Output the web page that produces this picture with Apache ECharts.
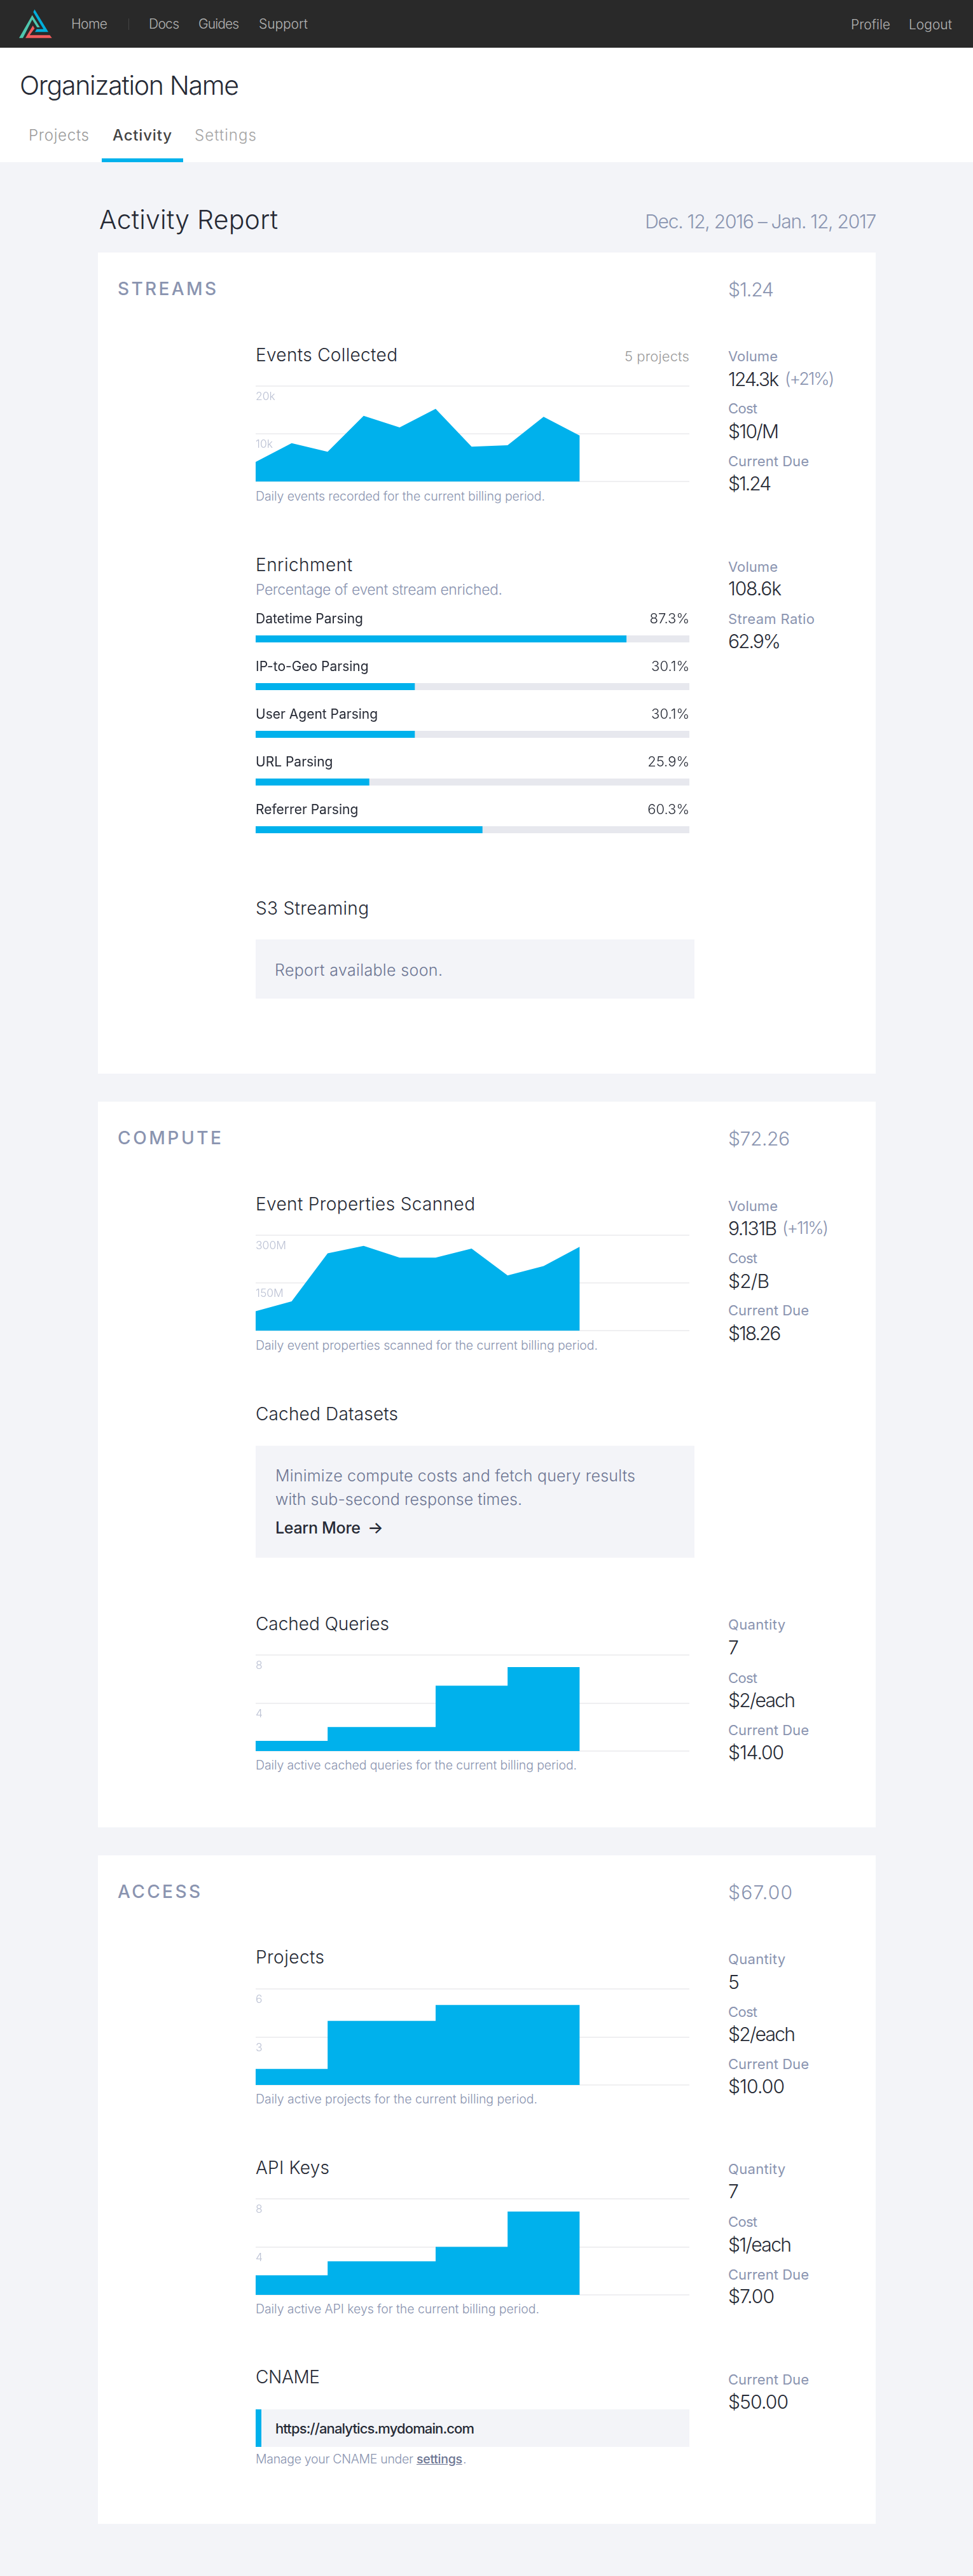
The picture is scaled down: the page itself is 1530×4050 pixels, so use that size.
<!DOCTYPE html>
<html><head><meta charset="utf-8">
<script src="https://cdn.jsdelivr.net/npm/echarts@6/dist/echarts.min.js"></script>
<style>
html,body{margin:0;padding:0;width:1530px;height:4050px;overflow:hidden;background:#f3f4f8;font-family:Inter,"Open Sans",sans-serif}
.r{position:absolute}
.t{position:absolute;line-height:0;height:0;white-space:nowrap}
.c{position:absolute}
</style></head><body>
<script>
// ---- chart data ----
const eventsCollected = [4089, 8044, 6222, 13778, 11333, 15244, 7289, 7600, 13556, 9644];
const eventsTicks = ['', '10k', '20k'];
const propertiesScanned = [61.2, 91.8, 242.9, 266.3, 229.6, 229.6, 258.2, 173.5, 203, 263.3];
const propertiesTicks = ['', '150M', '300M'];
const cachedQueries = [0.85, 0.85, 2, 2, 2, 5.45, 5.45, 7, 7, 7];
const cachedTicks = ['', '4', '8'];
const activeProjects = [1, 1, 4, 4, 4, 5, 5, 5, 5, 5];
const projectTicks = ['', '3', '6'];
const apiKeys = [1.63, 1.63, 2.8, 2.8, 2.8, 4, 4, 6.94, 6.94, 6.94];
const apiTicks = ['', '4', '8'];
const enrichNames = ['Datetime Parsing', 'IP-to-Geo Parsing', 'User Agent Parsing', 'URL Parsing', 'Referrer Parsing'];
const enrichBars = [85.5, 36.7, 36.7, 26.2, 52.3];
const enrichLabels = ['87.3%', '30.1%', '30.1%', '25.9%', '60.3%'];

// ---- page furniture ----
const BLUE = '#00b1ec', INK = '#262a35', SLATE = '#8a94b0', BOX = '#f3f4f8';
const rects = [
  [0, 0, 1530, 75, '#292929'], [0, 75, 1530, 180, '#fff'], [160, 249, 128, 6, BLUE],
  [202, 29, 1, 18, '#444'],
  [154, 397, 1223, 1291, '#fff'], [154, 1732, 1223, 1141, '#fff'], [154, 2917, 1223, 1051, '#fff'],
  [402, 1477, 690, 93, BOX], [402, 2273, 690, 176, BOX], [402, 3788, 682, 59, BOX], [402, 3788, 9, 59, BLUE]
];
// text, x, capMidY, size, targetWidth, colour, weight, align
const nav = '#b4b4b4';
const HEAD = 28, STAT = 22, VAL = 30, SUB = 27, CAP = 19.5, BODY = 25;
const texts = [
  ['Home', 112, 38, 21, 57, nav, 300], ['Docs', 234, 38, 21, 48, nav, 300], ['Guides', 312, 38, 21, 64, nav, 300], ['Support', 407, 38, 21, 77, nav, 300],
  ['Profile', 1338, 39, 21, 62, nav, 300], ['Logout', 1429, 39, 21, 68, nav, 300],
  ['Organization Name', 31, 134, 41, 345, INK, 300],
  ['Projects', 45, 213, 24, 95, '#9b9b9b', 300], ['Activity', 177, 213, 24, 93, '#444', 500], ['Settings', 306, 213, 24, 97, '#a5a5a5', 300],
  ['Activity Report', 156, 345, 41, 281, INK, 300],
  ['Dec. 12, 2016 – Jan. 12, 2017', 1377, 348, 30, 364, SLATE, 300, 'r'],

  ['STREAMS', 185, 454, HEAD, 155, SLATE, 500], ['$1.24', 1145, 455, VAL, 72, SLATE, 300],
  ['Events Collected', 402, 558, HEAD, 223, INK, 300], ['5 projects', 1084, 560, STAT, 102, '#9b9b9b', 300, 'r'],
  ['Volume', 1145, 560, STAT, 78, SLATE, 400], ['124.3k', 1145, 596, VAL, 80, INK, 300], ['(+21%)', 1234, 596, SUB, 78, SLATE, 300],
  ['Cost', 1145, 642, STAT, 46, SLATE, 400], ['$10/M', 1145, 678, VAL, 80, INK, 300],
  ['Current Due', 1145, 725, STAT, 127, SLATE, 400], ['$1.24', 1145, 760, VAL, 65, INK, 300],
  ['Daily events recorded for the current billing period.', 402, 780, CAP, 455, SLATE, 300],

  ['Enrichment', 402, 888, HEAD, 152, INK, 300], ['Percentage of event stream enriched.', 402, 927, 23, 388, SLATE, 300],
  ['Volume', 1145, 891, STAT, 78, SLATE, 400], ['108.6k', 1145, 925, VAL, 84, INK, 300],
  ['Stream Ratio', 1145, 973, STAT, 136, SLATE, 400], ['62.9%', 1145, 1008, VAL, 79, INK, 300],

  ['S3 Streaming', 402, 1428, HEAD, 178, INK, 300], ['Report available soon.', 432, 1525, BODY, 264, '#6d7693', 300],

  ['COMPUTE', 185, 1789, HEAD, 163, SLATE, 500], ['$72.26', 1145, 1790, VAL, 97, SLATE, 300],
  ['Event Properties Scanned', 402, 1893, HEAD, 345, INK, 300],
  ['Volume', 1145, 1896, STAT, 78, SLATE, 400], ['9.131B', 1145, 1931, VAL, 77, INK, 300], ['(+11%)', 1230, 1931, SUB, 72, SLATE, 300],
  ['Cost', 1145, 1978, STAT, 46, SLATE, 400], ['$2/B', 1145, 2014, VAL, 65, INK, 300],
  ['Current Due', 1145, 2060, STAT, 127, SLATE, 400], ['$18.26', 1145, 2096, VAL, 83, INK, 300],
  ['Daily event properties scanned for the current billing period.', 402, 2115, CAP, 538, SLATE, 300],

  ['Cached Datasets', 402, 2223, HEAD, 224, INK, 300],
  ['Minimize compute costs and fetch query results', 433, 2320, BODY, 566, '#6d7693', 300],
  ['with sub-second response times.', 433, 2357, BODY, 388, '#6d7693', 300],
  ['Learn More', 433, 2402, BODY, 134, INK, 500], ['→', 578, 2402, 26, 22, INK, 500],

  ['Cached Queries', 402, 2553, HEAD, 210, INK, 300],
  ['Quantity', 1145, 2554, STAT, 90, SLATE, 400], ['7', 1145, 2590, VAL, 14, INK, 300],
  ['Cost', 1145, 2638, STAT, 46, SLATE, 400], ['$2/each', 1145, 2673, VAL, 106, INK, 300],
  ['Current Due', 1145, 2720, STAT, 127, SLATE, 400], ['$14.00', 1145, 2755, VAL, 88, INK, 300],
  ['Daily active cached queries for the current billing period.', 402, 2775, CAP, 505, SLATE, 300],

  ['ACCESS', 185, 2974, HEAD, 130, SLATE, 500], ['$67.00', 1145, 2975, VAL, 101, SLATE, 300],
  ['Projects', 402, 3077, HEAD, 108, INK, 300],
  ['Quantity', 1145, 3080, STAT, 90, SLATE, 400], ['5', 1145, 3116, VAL, 15, INK, 300],
  ['Cost', 1145, 3163, STAT, 46, SLATE, 400], ['$2/each', 1145, 3198, VAL, 106, INK, 300],
  ['Current Due', 1145, 3245, STAT, 127, SLATE, 400], ['$10.00', 1145, 3280, VAL, 89, INK, 300],
  ['Daily active projects for the current billing period.', 402, 3300, CAP, 443, SLATE, 300],

  ['API Keys', 402, 3408, HEAD, 116, INK, 300],
  ['Quantity', 1145, 3410, STAT, 90, SLATE, 400], ['7', 1145, 3445, VAL, 14, INK, 300],
  ['Cost', 1145, 3493, STAT, 46, SLATE, 400], ['$1/each', 1145, 3529, VAL, 100, INK, 300],
  ['Current Due', 1145, 3576, STAT, 127, SLATE, 400], ['$7.00', 1145, 3610, VAL, 73, INK, 300],
  ['Daily active API keys for the current billing period.', 402, 3630, CAP, 446, SLATE, 300],

  ['CNAME', 402, 3737, HEAD, 101, INK, 300],
  ['Current Due', 1145, 3741, STAT, 127, SLATE, 400], ['$50.00', 1145, 3776, VAL, 95, INK, 300],
  ['https://analytics.mydomain.com', 433, 3818, 22, 313, INK, 500],
  ['Manage your CNAME under', 402, 3866, CAP, 248, SLATE, 300], ['settings', 655, 3866, CAP, 72, '#6d7693', 500, 'u'], ['.', 728, 3866, CAP, 4, SLATE, 300]
];

for (const [x, y, w, h, c] of rects) {
  const d = document.createElement('div'); d.className = 'r';
  d.style.cssText = `left:${x}px;top:${y}px;width:${w}px;height:${h}px;background:${c}`;
  document.body.appendChild(d);
}
document.body.insertAdjacentHTML('beforeend',
  `<svg class="r" style="left:20px;top:8px" width="80" height="60" viewBox="0 0 240 180">
   <polygon fill="#00aedb" points="103,20 168,127 105,127 113,113 145,113 97,33"/>
   <polygon fill="#4fc7ae" points="92,47 128,105 115,105 92,68 48,155 30,155"/>
   <polygon fill="#f25c5c" points="95,97 103,110 80,142 175,142 185,155 60,155"/></svg>`);
for (const [s, x, y, size, w, col, wt, al] of texts) {
  const d = document.createElement('div'); d.className = 't'; d.textContent = s;
  d.style.cssText = `top:${y}px;font-size:${size}px;color:${col};font-weight:${wt};` +
    (al === 'r' ? `right:${1530 - x}px;` : `left:${x}px;`) + (al === 'u' ? 'text-decoration:underline;' : '');
  document.body.appendChild(d);
  const m = d.getBoundingClientRect().width;
  if (s.length > 1) d.style.letterSpacing = Math.max(-2, Math.min(6, (w - m) / (s.length - 1))).toFixed(3) + 'px';
}

function box(left, top, width, height) {
  const d = document.createElement('div'); d.className = 'c';
  d.style.cssText = `left:${left}px;top:${top}px;width:${width}px;height:${height}px`;
  document.body.appendChild(d);
  return echarts.init(d);
}
function axis(maxV, interval, ticks) {
  return {
    type: 'value', min: 0, max: maxV, interval, z: 3,
    axisLine: { show: false }, axisTick: { show: false },
    splitLine: { lineStyle: { color: 'rgba(40,50,70,0.10)', width: 1.5 } },
    axisLabel: {
      inside: true, margin: 0, verticalAlign: 'top', padding: [8, 0, 0, 0],
      fontFamily: 'Inter', fontWeight: 300, fontSize: 17.5, color: '#bcc2d4',
      formatter: v => ticks[Math.round(v / interval)] || ''
    }
  };
}
function areaChart(top, h, values, maxV, interval, ticks, step) {
  box(392, top - 10, 702, h + 20).setOption({
    animation: false,
    grid: { left: 10, right: 10, top: 10, bottom: 10 },
    xAxis: { type: 'value', min: 0, max: 12.05, show: false },
    yAxis: axis(maxV, interval, ticks),
    series: [{
      type: 'line', step: step ? 'end' : false, showSymbol: false, silent: true,
      data: values.map((v, i) => [i, v]),
      lineStyle: { width: 0 }, areaStyle: { color: BLUE, opacity: 1 }
    }]
  });
}
areaChart(607, 150, eventsCollected, 20000, 10000, eventsTicks, false);
areaChart(1942, 150, propertiesScanned, 300, 150, propertiesTicks, false);
areaChart(2602, 151, cachedQueries, 8, 4, cachedTicks, true);
areaChart(3127, 151, activeProjects, 6, 3, projectTicks, true);
areaChart(3457, 151, apiKeys, 8, 4, apiTicks, true);

box(392, 950, 702, 400).setOption({
  animation: false,
  grid: { left: 10, right: 10, top: 17, height: 375 },
  xAxis: { type: 'value', min: 0, max: 100, show: false },
  yAxis: { type: 'category', inverse: true, data: enrichNames, show: false },
  series: [
    { type: 'bar', silent: true, barWidth: 11, barGap: '-100%', data: enrichNames.map(() => 100),
      itemStyle: { color: '#e7e8ee' },
      label: { show: true, position: 'insideRight', distance: 0, offset: [0, -31], fontFamily: 'Inter', fontWeight: 300, fontSize: 22, color: INK,
        formatter: p => enrichLabels[p.dataIndex] } },
    { type: 'bar', silent: true, barWidth: 11, data: enrichBars,
      itemStyle: { color: BLUE },
      label: { show: true, position: 'insideLeft', distance: 0, offset: [0, -31], fontFamily: 'Inter', fontWeight: 400, fontSize: 21, color: INK,
        formatter: p => p.name } }
  ]
});
</script></body></html>
